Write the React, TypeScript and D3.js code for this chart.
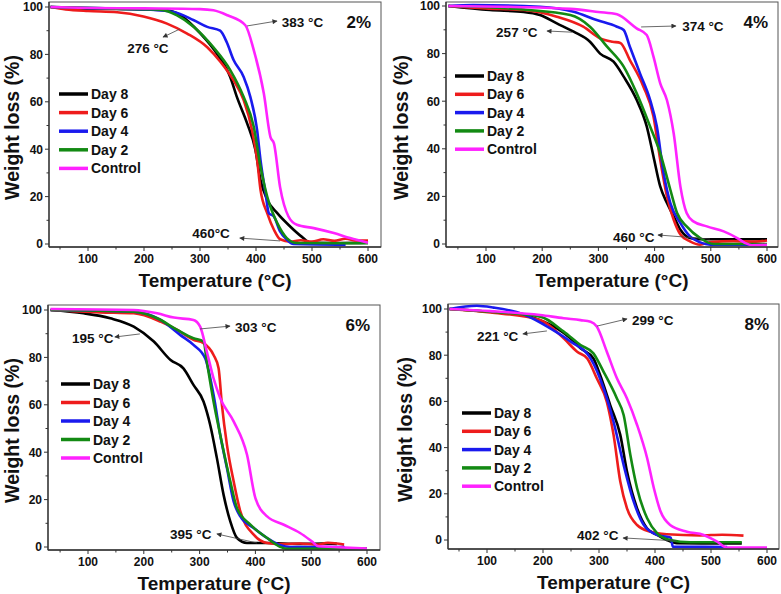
import React from "react";
import * as d3 from "d3";

const FONT = "'Liberation Sans', Arial, Helvetica, sans-serif";

const seriesNames = ["Day 8", "Day 6", "Day 4", "Day 2", "Control"];
const seriesColors = ["#000000", "#ee1c1c", "#1a1aee", "#138a13", "#ff22ff"];
const xTicks = [100, 200, 300, 400, 500, 600];
const xMinor = [50, 150, 250, 350, 450, 550];
const yTicks = [0, 20, 40, 60, 80, 100];
const yMinor = [10, 30, 50, 70, 90];
const panelLabels = ["2%", "4%", "6%", "8%"];

type Pt = [number, number];

// ---------- Panel 1 (2%) ----------
const p1Day8: Pt[] = [[33,100],[100,99.3],[200,99],[241,98.6],[265,96.5],[301,88.8],[330,80.4],[354,70.5],[366,62],[384,51],[399,39.7],[408,27],[420,18.7],[438,13],[461,7.4],[482,3],[497,0.5],[550,0.4],[600,0.5]];
const p1Day6: Pt[] = [[33,100],[60,99],[100,98.3],[152,97.8],[199,96],[241,93],[277,88.8],[313,83],[336,77],[360,69],[378,60.7],[393,48],[402,35.5],[408,23],[420,13],[432,6],[443,2],[461,1],[480,1.6],[500,1],[520,2],[540,1.3],[560,2.2],[580,1.5],[600,1.5]];
const p1Day4: Pt[] = [[33,100],[150,99.3],[200,99],[253,97.9],[289,94.4],[313,91.6],[336,90],[348,85],[360,77.6],[378,70.5],[390,62],[402,48],[408,35.5],[417,21.5],[423,13],[432,11.6],[443,5.3],[455,1.8],[467,0],[560,-0.3]];
const p1Day2: Pt[] = [[33,100],[150,99.3],[229,98.9],[259,96.5],[289,91.6],[324,83],[354,73.4],[378,62],[396,49.5],[408,32.7],[420,20],[438,8.8],[455,2.5],[473,0.4],[600,0.3]];
const p1Control: Pt[] = [[33,100],[100,99.6],[200,99.4],[300,99.1],[324,98.6],[349,96.5],[381,92.3],[396,81.8],[414,63.5],[426,45],[432,42.5],[443,24],[458,11.6],[473,8.1],[503,6.7],[539,4.6],[568,2.5],[600,0.5]];

// ---------- Panel 2 (4%) ----------
const p2Day8: Pt[] = [[33,100],[107,98.3],[167,97.5],[196,96.2],[226,92.7],[256,89.2],[285,85],[303,80],[327,76.6],[345,70.3],[368,60.6],[386,49.4],[398,36.8],[410,24.2],[422,17.2],[434,11.6],[446,6],[463,2.5],[480,2],[600,2]];
const p2Day6: Pt[] = [[33,100],[100,99],[167,98.3],[226,95.5],[273,91.3],[303,86.4],[325,85],[339,84.5],[356,77.3],[380,66.2],[398,53.6],[410,35.4],[422,20],[434,10.2],[446,4],[463,1.1],[481,-0.3],[500,0.8],[540,1.2],[580,1],[600,1.5]];
const p2Day4: Pt[] = [[33,100],[77,100.4],[196,99.7],[256,97.6],[297,94.1],[333,91.3],[345,89.9],[356,82.9],[374,71.7],[392,60.6],[404,49.4],[416,29.8],[428,17.2],[446,8.8],[463,3.2],[481,0.7],[499,-0.3],[600,-0.3]];
const p2Day2: Pt[] = [[33,100],[167,98.5],[250,96.2],[285,91.3],[315,83],[345,74.5],[368,63.4],[392,49.4],[410,38.2],[428,22.8],[440,13],[457,7.4],[481,2.5],[505,0],[600,0]];
const p2Control: Pt[] = [[33,100],[150,99.6],[250,98.8],[300,97.5],[333,96.5],[368,90.6],[386,87.8],[398,78.7],[410,67.5],[422,60.4],[434,46.4],[446,24],[457,13],[469,9.5],[493,7.4],[523,5.3],[547,2.5],[561,0.4],[573,-0.5],[600,-0.3]];

// ---------- Panel 3 (6%) ----------
const p3Day8: Pt[] = [[33,100],[92,98.6],[140,96.5],[182,93],[218,86.7],[248,78.9],[271,75.4],[289,68.4],[307,61.4],[319,51.5],[331,37.5],[343,22],[355,10.8],[367,3.8],[385,1.7],[421,1.7],[480,1.3],[520,1.5],[546,1.3]];
const p3Day6: Pt[] = [[33,100],[122,99],[182,98.6],[230,95.1],[260,91.6],[289,87.4],[307,86],[325,81],[334,75.4],[340,60],[349,43.1],[361,27.7],[373,15],[397,5.2],[421,1.7],[451,1.2],[480,1.5],[510,1],[530,1.8],[559,1]];
const p3Day4: Pt[] = [[33,100],[182,99.3],[230,95.8],[265,89.5],[289,85.3],[310,79.6],[325,64.2],[337,47.3],[349,33.3],[361,19.2],[373,12.9],[397,8],[421,3.8],[445,0.7],[463,0],[560,0]];
const p3Day2: Pt[] = [[33,100],[182,99.3],[224,96.5],[260,91.6],[289,88.1],[307,86.7],[313,78.2],[325,61.4],[337,47.3],[355,27.7],[367,16.4],[391,9.4],[421,3.8],[445,0],[457,-0.8],[600,-0.6]];
const p3Control: Pt[] = [[33,100.4],[182,100],[224,98.6],[254,96.8],[289,95.8],[301,93],[313,82.4],[325,71.2],[337,62.8],[361,53],[385,38.9],[400,20.6],[421,12.9],[451,9.4],[480,5.9],[501,2.4],[513,0.3],[540,0],[600,-0.7]];

// ---------- Panel 4 (8%) ----------
const p4Day8: Pt[] = [[33,100],[106,98.8],[165,97.4],[201,94.5],[225,91.6],[249,87.3],[267,83],[290,78.6],[302,71.4],[320,58.4],[338,45.5],[350,29.6],[368,13.7],[386,5],[404,2.2],[421,0],[439,-1.4],[555,-1.5]];
const p4Day6: Pt[] = [[33,100],[106,98.5],[195,95.2],[237,87.3],[261,81.5],[279,78.6],[296,70],[314,59.8],[326,45.5],[338,25.3],[350,13.7],[368,6.5],[392,3.6],[421,2.5],[480,2],[520,2.3],[558,1.9]];
const p4Day4: Pt[] = [[33,100],[82,101.4],[112,100.6],[165,97.7],[213,91.6],[249,85.9],[285,78.6],[308,65.8],[326,51.2],[344,32.5],[362,16.6],[380,6.5],[404,2.2],[421,1.4],[428,1],[432,-2.9],[529,-3]];
const p4Day2: Pt[] = [[33,100],[106,98.8],[195,96.7],[237,90.2],[267,84.4],[290,80.8],[308,72.9],[332,61.3],[344,54.1],[356,36.8],[368,22.4],[386,9.4],[404,2.9],[427,0],[463,-1],[555,-1]];
const p4Control: Pt[] = [[33,100],[106,99.1],[195,97.4],[237,96],[267,95.2],[285,94.5],[296,92.4],[314,81.5],[332,70],[350,61.3],[368,49.8],[386,35.4],[398,22.4],[410,12.3],[427,6.5],[457,3.6],[487,2.2],[511,-0.7],[529,-3.3],[600,-3.3]];

// annotations: text start (temp, value), arrow from -> to (temp, value)
type Note = { text: string; at: Pt; from: Pt; to: Pt };
const p1Notes: Note[] = [
  { text: "383 °C", at: [446, 93.5], from: [384, 92], to: [437.5, 94.1] },
  { text: "276 °C", at: [170, 82.7], from: [264, 90.7], to: [234, 87.3] },
  { text: "460°C", at: [286, 4.6], from: [443, 1.3], to: [371, 2.5] },
];
const p2Notes: Note[] = [
  { text: "374 °C", at: [449, 91.6], from: [376, 91.2], to: [438, 91.6] },
  { text: "257 °C", at: [118, 89], from: [253, 89], to: [208.5, 89.5] },
  { text: "460 °C", at: [326, 2.9], from: [498.6, 2.1], to: [406, 3.8] },
];
const p3Notes: Note[] = [
  { text: "303 °C", at: [363.4, 92.8], from: [300.7, 92], to: [354.5, 93.2] },
  { text: "195 °C", at: [71.3, 88.2], from: [193, 89.9], to: [148, 88.6] },
  { text: "395 °C", at: [247, 5.5], from: [403, 1.7], to: [331, 5.5] },
];
const p4Notes: Note[] = [
  { text: "299 °C", at: [359, 95.2], from: [296.4, 92.6], to: [350, 95.7] },
  { text: "221 °C", at: [82, 88.3], from: [207, 90.5], to: [164, 89.2] },
  { text: "402 °C", at: [260.7, 2.2], from: [439, -0.4], to: [343, 0.9] },
];

const panelSeries = [
  [p1Day8, p1Day6, p1Day4, p1Day2, p1Control],
  [p2Day8, p2Day6, p2Day4, p2Day2, p2Control],
  [p3Day8, p3Day6, p3Day4, p3Day2, p3Control],
  [p4Day8, p4Day6, p4Day4, p4Day2, p4Control],
];
const panelNotes = [p1Notes, p2Notes, p3Notes, p4Notes];

// layout (pixels)
const layouts = [
  { l: 49, r: 381, t: 2, b: 247, x100: 88, x600: 368, y100: 7, y0: 244, lgX: 10, lgY: 92, lgDy: 18.6, yTitleX: -37 },
  { l: 446, r: 778, t: 2, b: 247, x100: 486, x600: 767, y100: 6, y0: 244, lgX: 9, lgY: 74, lgDy: 18.3, yTitleX: -45 },
  { l: 48, r: 380, t: 305, b: 550, x100: 88, x600: 367, y100: 310, y0: 547, lgX: 13, lgY: 79, lgDy: 18.5, yTitleX: -36 },
  { l: 448, r: 779, t: 304, b: 549, x100: 487, x600: 767, y100: 309, y0: 540, lgX: 14, lgY: 109, lgDy: 18.3, yTitleX: -43 },
];

function Panel({ idx }: { idx: number }) {
  const L = layouts[idx];
  const x = d3.scaleLinear().domain([100, 600]).range([L.x100, L.x600]);
  const y = d3.scaleLinear().domain([0, 100]).range([L.y0, L.y100]);
  const line = d3
    .line<Pt>()
    .x((d) => x(d[0]))
    .y((d) => y(d[1]))
    .curve(d3.curveMonotoneX);
  const clipId = `clip${idx}`;
  const inX = (v: number) => x(v) >= L.l && x(v) <= L.r;
  const inY = (v: number) => y(v) >= L.t && y(v) <= L.b;
  const midX = (L.l + L.r) / 2;
  const midY = (L.t + L.b) / 2 + 3;
  return (
    <g>
      <defs>
        <clipPath id={clipId}>
          <rect x={L.l} y={L.t} width={L.r - L.l} height={L.b - L.t} />
        </clipPath>
      </defs>
      <rect x={L.l} y={L.t} width={L.r - L.l} height={L.b - L.t} fill="#fff" stroke="#555" strokeWidth={1} />
      <g clipPath={`url(#${clipId})`}>
        {panelSeries[idx].map((s, i) => (
          <path key={i} d={line(s) || ""} fill="none" stroke={seriesColors[i]} strokeWidth={2.6} strokeLinejoin="round" />
        ))}
      </g>
      {/* axes */}
      <line x1={L.l} x2={L.r} y1={L.b} y2={L.b} stroke="#333" strokeWidth={1.3} />
      <line x1={L.l} x2={L.l} y1={L.t} y2={L.b} stroke="#333" strokeWidth={1.3} />
      {xTicks.filter(inX).map((t) => (
        <g key={"xt" + t}>
          <line x1={x(t)} x2={x(t)} y1={L.b} y2={L.b + 4} stroke="#333" strokeWidth={1} />
          <text x={x(t)} y={L.b + 16} textAnchor="middle" fontSize={12} fontWeight="bold" fontFamily={FONT} fill="#111">{t}</text>
        </g>
      ))}
      {xMinor.filter(inX).map((t) => (
        <line key={"xm" + t} x1={x(t)} x2={x(t)} y1={L.b} y2={L.b + 2.5} stroke="#333" strokeWidth={1} />
      ))}
      {yTicks.filter(inY).map((t) => (
        <g key={"yt" + t}>
          <line x1={L.l - 4} x2={L.l} y1={y(t)} y2={y(t)} stroke="#333" strokeWidth={1} />
          <text x={L.l - 6} y={y(t)} dy="0.36em" textAnchor="end" fontSize={12} fontWeight="bold" fontFamily={FONT} fill="#111">{t}</text>
        </g>
      ))}
      {yMinor.filter(inY).map((t) => (
        <line key={"ym" + t} x1={L.l - 2.5} x2={L.l} y1={y(t)} y2={y(t)} stroke="#333" strokeWidth={1} />
      ))}
      <text x={midX} y={L.b + 33} dy="0.36em" textAnchor="middle" fontSize={19} fontWeight="bold" fontFamily={FONT} fill="#111">Temperature (°C)</text>
      <text transform={`translate(${L.l + L.yTitleX},${midY}) rotate(-90)`} dy="0.36em" textAnchor="middle" fontSize={19.5} fontWeight="bold" fontFamily={FONT} fill="#111">Weight loss (%)</text>
      {/* panel label */}
      <text x={L.r - 10} y={L.t + 20} dy="0.36em" textAnchor="end" fontSize={17} fontWeight="bold" fontFamily={FONT} fill="#111">{panelLabels[idx]}</text>
      {/* annotations */}
      {panelNotes[idx].map((n, i) => (
        <g key={"n" + i}>
          <line x1={x(n.from[0])} y1={y(n.from[1])} x2={x(n.to[0])} y2={y(n.to[1])} stroke="#444" strokeWidth={0.8} markerEnd="url(#arrowHead)" />
          <text x={x(n.at[0])} y={y(n.at[1])} dy="0.36em" fontSize={13.5} fontWeight="bold" fontFamily={FONT} fill="#111">{n.text}</text>
        </g>
      ))}
      {/* legend */}
      {seriesNames.map((name, i) => {
        const ly = L.t + L.lgY + i * L.lgDy;
        return (
          <g key={"lg" + i}>
            <line x1={L.l + L.lgX} x2={L.l + L.lgX + 29} y1={ly} y2={ly} stroke={seriesColors[i]} strokeWidth={3.5} />
            <text x={L.l + L.lgX + 32} y={ly} dy="0.36em" fontSize={14} fontWeight="bold" fontFamily={FONT} fill="#111">{name}</text>
          </g>
        );
      })}
    </g>
  );
}

export default function App() {
  return (
    <svg width={781} height={594} style={{ position: "absolute", left: 0, top: 0, background: "#fff" }}>
      <defs>
        <marker id="arrowHead" viewBox="0 0 10 10" refX="9" refY="5" markerWidth="7" markerHeight="5" orient="auto" markerUnits="userSpaceOnUse">
          <path d="M0,0 L10,5 L0,10 z" fill="#333" />
        </marker>
      </defs>
      <rect width={781} height={594} fill="#fff" />
      {[0, 1, 2, 3].map((i) => (
        <Panel key={i} idx={i} />
      ))}
    </svg>
  );
}
